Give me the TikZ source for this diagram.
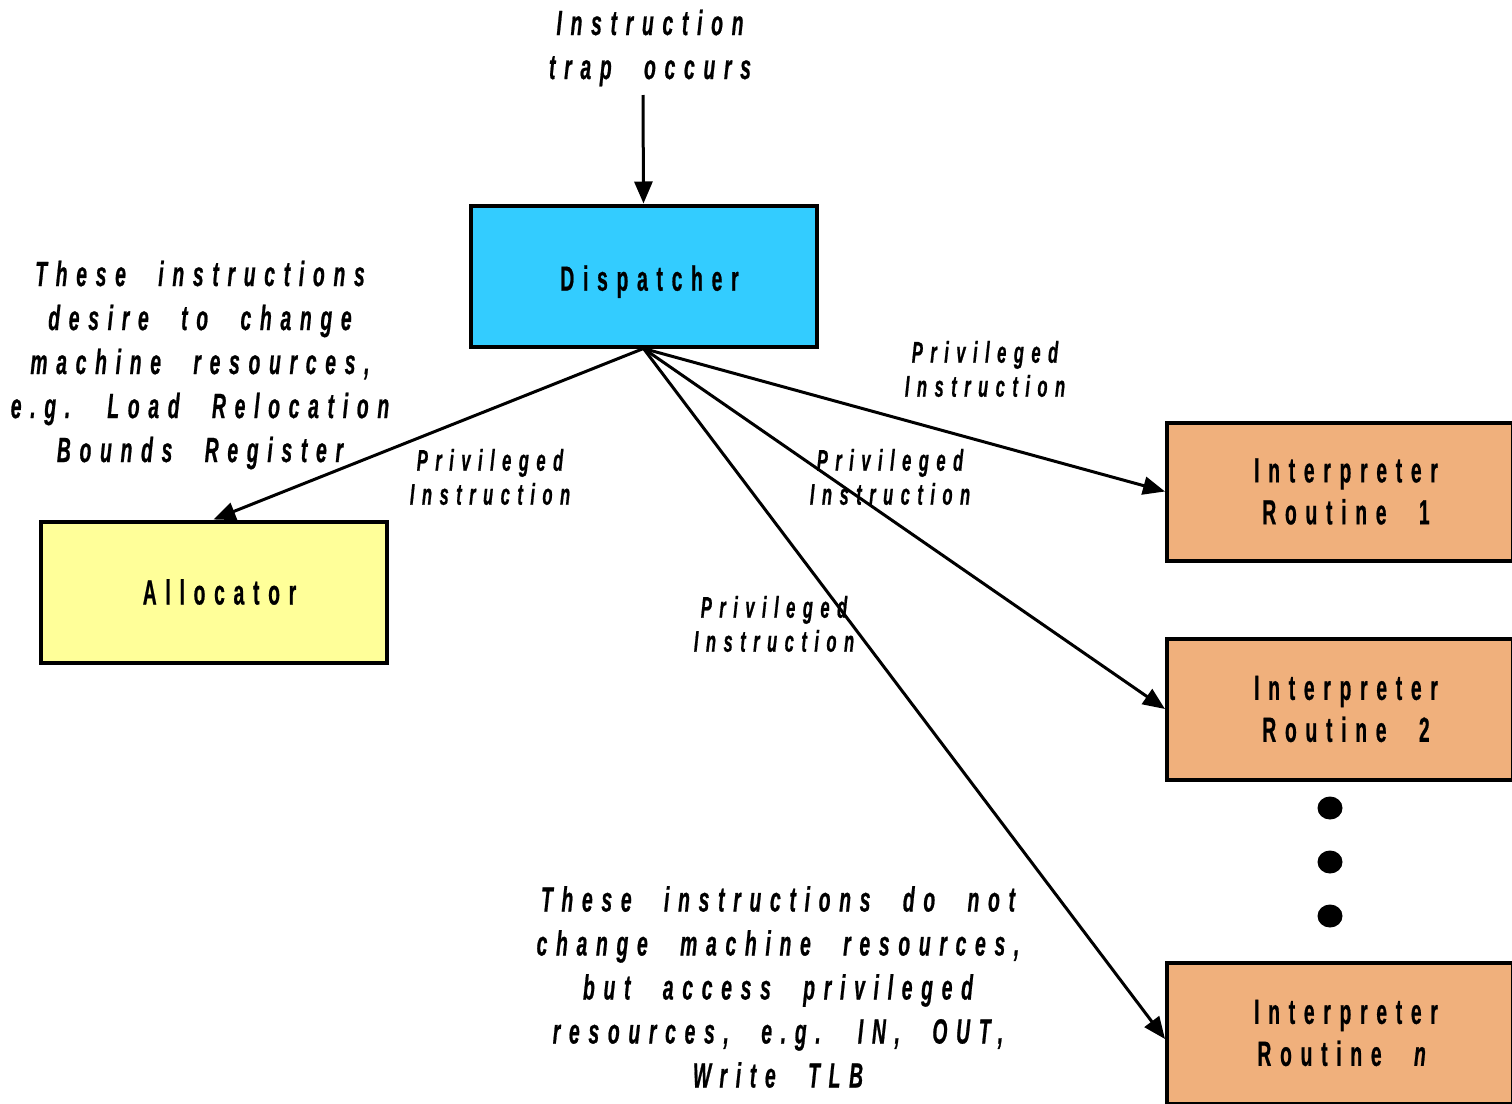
\documentclass[tikz,border=0pt]{standalone}
\usepackage{fontspec}
\setmainfont{Liberation Sans}[FakeStretch=0.55,LetterSpace=25,WordSpace=2.3,FakeBold=0.6]
\usetikzlibrary{arrows.meta}
\definecolor{dispfill}{HTML}{33CCFF}
\definecolor{allocfill}{HTML}{FFFF99}
\definecolor{interpfill}{HTML}{F0B07C}
\begin{document}
\begin{tikzpicture}[x=1pt,y=-1pt,
  box/.style={draw=black,line width=4pt,minimum width=346pt,inner sep=0pt,align=center,
    font=\fontsize{35}{45}\selectfont\bfseries},
  note/.style={align=center,font=\fontsize{35}{44}\selectfont\bfseries\itshape},
  lbl/.style={align=center,font=\fontsize{30}{34}\selectfont\bfseries\itshape},
  flow/.style={line width=3pt,-{Triangle[length=22pt,width=18pt]}}]
\clip (0,0) rectangle (1512,1103);
\useasboundingbox (0,0) rectangle (1512,1103);

% boxes
\node[box,fill=dispfill,minimum height=141pt,text depth=0pt] (disp) at (643.5,276) {\raisebox{-4pt}{\hspace*{12pt}Dispatcher}};
\node[box,fill=allocfill,minimum height=141pt] (alloc) at (213.5,592) {\raisebox{-4pt}{\hspace*{12pt}Allocator}};
\node[box,fill=interpfill,minimum height=138pt] (int1) at (1340,491.5) {\raisebox{-3pt}{\hspace*{12pt}Interpreter}\\\hspace*{12pt}Routine 1};
\node[box,fill=interpfill,minimum height=141pt] (int2) at (1340,709) {\raisebox{-3pt}{\hspace*{12pt}Interpreter}\\\hspace*{12pt}Routine 2};
\node[box,fill=interpfill,minimum height=141pt] (intn) at (1340,1033) {\raisebox{-3pt}{\hspace*{12pt}Interpreter}\\\hspace*{12pt}Routine \textit{n}};

% ellipsis dots
\foreach \yy in {808,862,916}
  \fill (1330,\yy) circle[x radius=12.5pt,y radius=11.5pt];

% entry point
\node[note] (trap) at (650,48) {Instruction\\trap occurs};
\coordinate (trapend) at (643,95);
\draw[flow] (trapend) -- (disp.north);

% dispatch arrows
\draw[flow] (disp.south) -- (alloc.north);
\draw[flow] (disp.south) -- (int1.west);
\draw[flow] (disp.south) -- (int2.west);
\draw[flow] (disp.south) -- ([yshift=-6pt]intn.west);

% edge labels
\node[lbl] (l1) at (490,477) {Privileged\\Instruction};
\node[lbl] (l2) at (985,369) {Privileged\\Instruction};
\node[lbl] (l3) at (890,477) {Privileged\\Instruction};
\node[lbl] (l4) at (774,624) {Privileged\\Instruction};

% annotations
\node[note] (left) at (200,365) {These instructions\\desire to change\\machine resources,\\e.g. Load Relocation\\Bounds Register};
\node[note] (bottom) at (778,987) {These instructions do not\\change machine resources,\\but access privileged\\resources, e.g. IN, OUT,\\Write TLB};
\end{tikzpicture}
\end{document}
